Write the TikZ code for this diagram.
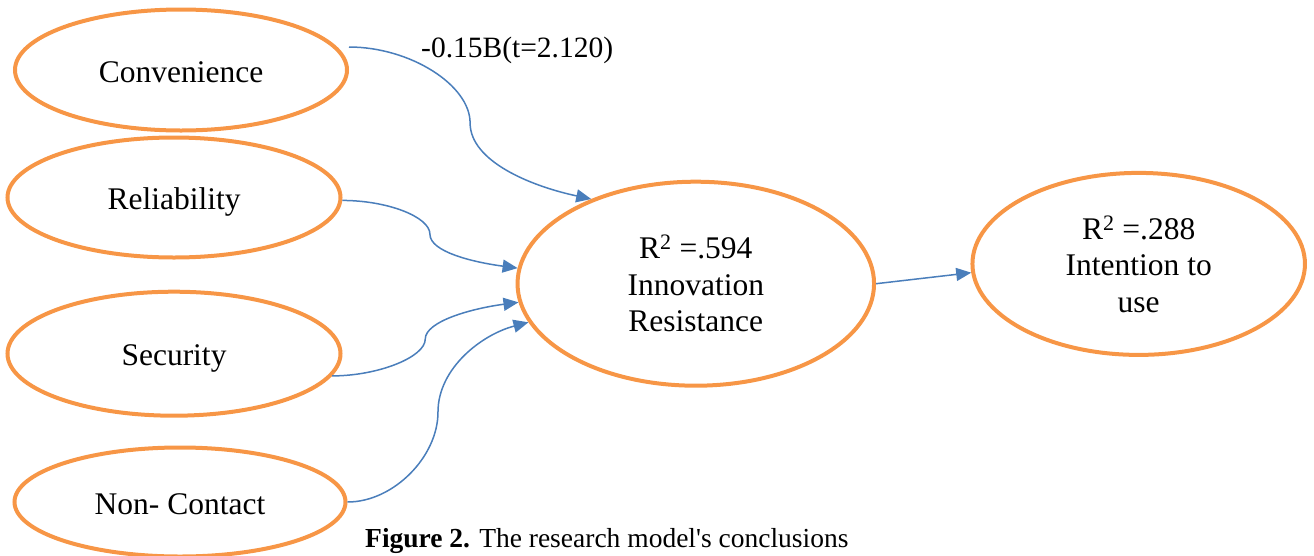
\documentclass[tikz,border=0pt]{standalone}
\usepackage{fontspec}
\setmainfont{Liberation Serif}
\usetikzlibrary{shapes.geometric,arrows.meta,calc}
\definecolor{ringorange}{HTML}{F79646}
\definecolor{linkblue}{HTML}{4A7EBB}
\begin{document}
\begin{tikzpicture}[x=1pt,y=-1pt,
  construct/.style={ellipse,draw=ringorange,line width=4pt,align=center,inner sep=0pt,
    font=\fontsize{31.5}{36.5}\selectfont},
  oneline/.style={text height=24pt,text depth=0pt},
  link/.style={draw=linkblue,line width=1.5pt,-{Triangle[length=15pt,width=13pt]}},
  note/.style={inner sep=0pt,anchor=base west}]
\useasboundingbox (0,0) rectangle (1314,555);

% constructs
\node[construct,oneline,minimum width=332pt,minimum height=121pt] (conv) at (181,70) {Convenience};
\node[construct,oneline,minimum width=333pt,minimum height=120pt] (rel) at (174,197.5) {Reliability};
\node[construct,oneline,minimum width=333pt,minimum height=124pt] (sec) at (174,353.7) {Security};
\node[construct,oneline,minimum width=331pt,minimum height=109pt] (nc) at (180,502) {Non- Contact};
\node[construct,minimum width=356.5pt,minimum height=204pt] (ir) at (695.8,283.7)
  {R\textsuperscript{2} =.594\\Innovation\\Resistance};
\node[construct,minimum width=332.5pt,minimum height=182pt] (itu) at (1138.7,263.9)
  {R\textsuperscript{2} =.288\\Intention to\\use};

% path coefficient
\node[note,font=\fontsize{29.5}{34}\selectfont] (coef) at (421,57) {-0.15B(t=2.120)};

% connectors
\coordinate (s1) at ($(conv.east)+(0,-23)$);
\draw[link] (s1) .. controls +(61,0) and +(0,-38) .. ($(s1)!0.5!(ir.141.2)$)
  .. controls +(0,38) and +(-61,-13) .. (ir.141.2);
\draw[link] (rel.-1) .. controls +(45,0) and +(0,-17.5) .. ($(rel.-1)!0.5!(ir.175.8)$)
  .. controls +(0,17.5) and +(-45,-6) .. (ir.175.8);
\draw[link] (sec.-8) .. controls +(46,0) and +(0,18) .. ($(sec.-8)!0.5!(ir.186.2)$)
  .. controls +(0,-18) and +(-46,6) .. (ir.186.2);
\draw[link] (nc.east) .. controls +(46,0) and +(0,44.5) .. ($(nc.east)!0.5!(ir.193.9)$)
  .. controls +(0,-44.5) and +(-46,12) .. (ir.193.9);
\draw[link] (ir.east) -- (itu.183);

% caption
\node[note,font=\fontsize{27.5}{32}\selectfont] (cap) at (365,547)
  {\textbf{Figure 2.} The research model\textquotesingle s conclusions};
\end{tikzpicture}
\end{document}
